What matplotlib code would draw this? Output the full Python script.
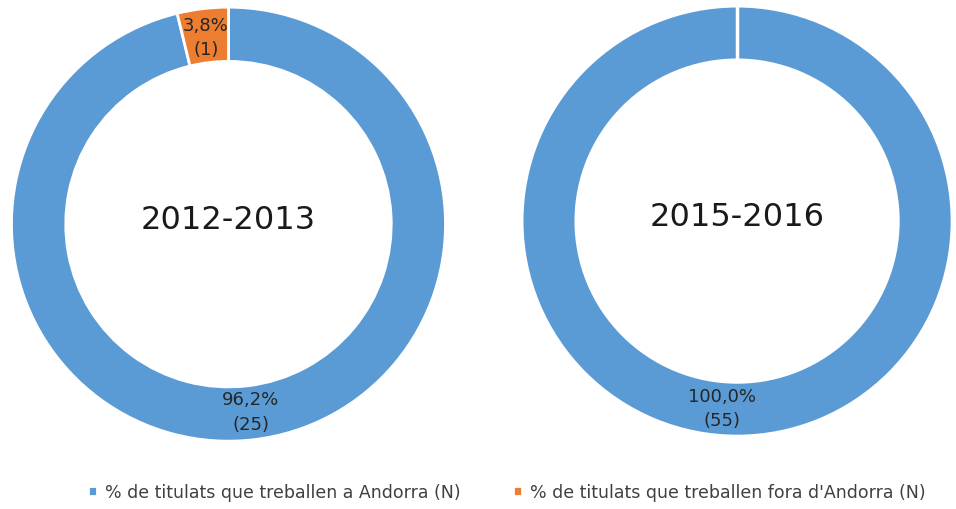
import matplotlib.pyplot as plt

years = ['2012-2013', '2015-2016']
pct_andorra = [96.2, 100.0]
pct_fora = [3.8, 0.0]
n_andorra = [25, 55]
n_fora = [1, 0]
legend_labels = ['% de titulats que treballen a Andorra (N)',
                 "% de titulats que treballen fora d'Andorra (N)"]
colors = ['#5B9BD5', '#ED7D31']

fig = plt.figure(figsize=(9.56, 5.1), dpi=100)
boxes = [[0.012, 0.133, 0.454, 0.851], [0.546, 0.143, 0.450, 0.843]]


def fmt(p, n):
    return '{:.1f}%\n({})'.format(p, n).replace('.', ',')


wedges_all = None
for i, year in enumerate(years):
    ax = fig.add_axes(boxes[i])
    vals = [pct_andorra[i], pct_fora[i]]
    labs = [fmt(pct_andorra[i], n_andorra[i]), fmt(pct_fora[i], n_fora[i])]
    keep = [k for k in range(2) if vals[k] > 0]
    wedges, texts = ax.pie([vals[k] for k in keep],
                           labels=[labs[k] for k in keep],
                           colors=[colors[k] for k in keep],
                           startangle=90, counterclock=False,
                           radius=1, labeldistance=0.87,
                           wedgeprops=dict(width=0.25, edgecolor='white', linewidth=2))
    for t in texts:
        t.set_ha('center')
        t.set_va('center')
        t.set_fontsize(13)
        t.set_color('#262626')
        t.set_linespacing(1.45)
    if len(keep) == 1:
        ax.plot([0, 0], [0.75, 1.0], color='white', lw=2.5)
        texts[0].set_x(texts[0].get_position()[0] - 0.07)
    ax.text(0, 0.02, year, ha='center', va='center', fontsize=23, color='#1a1a1a')
    ax.set_xlim(-1.0, 1.0)
    ax.set_ylim(-1.0, 1.0)
    ax.set_aspect('equal')
    ax.axis('off')
    if i == 0:
        wedges_all = wedges

fig.legend(wedges_all, legend_labels, loc='center', bbox_to_anchor=(0.53, 0.033),
           ncol=2, frameon=False, fontsize=12.5, handlelength=0.55, handleheight=0.55,
           handletextpad=0.45, columnspacing=3.0, labelcolor='#404040')

fig.savefig('out.png', dpi=100)
